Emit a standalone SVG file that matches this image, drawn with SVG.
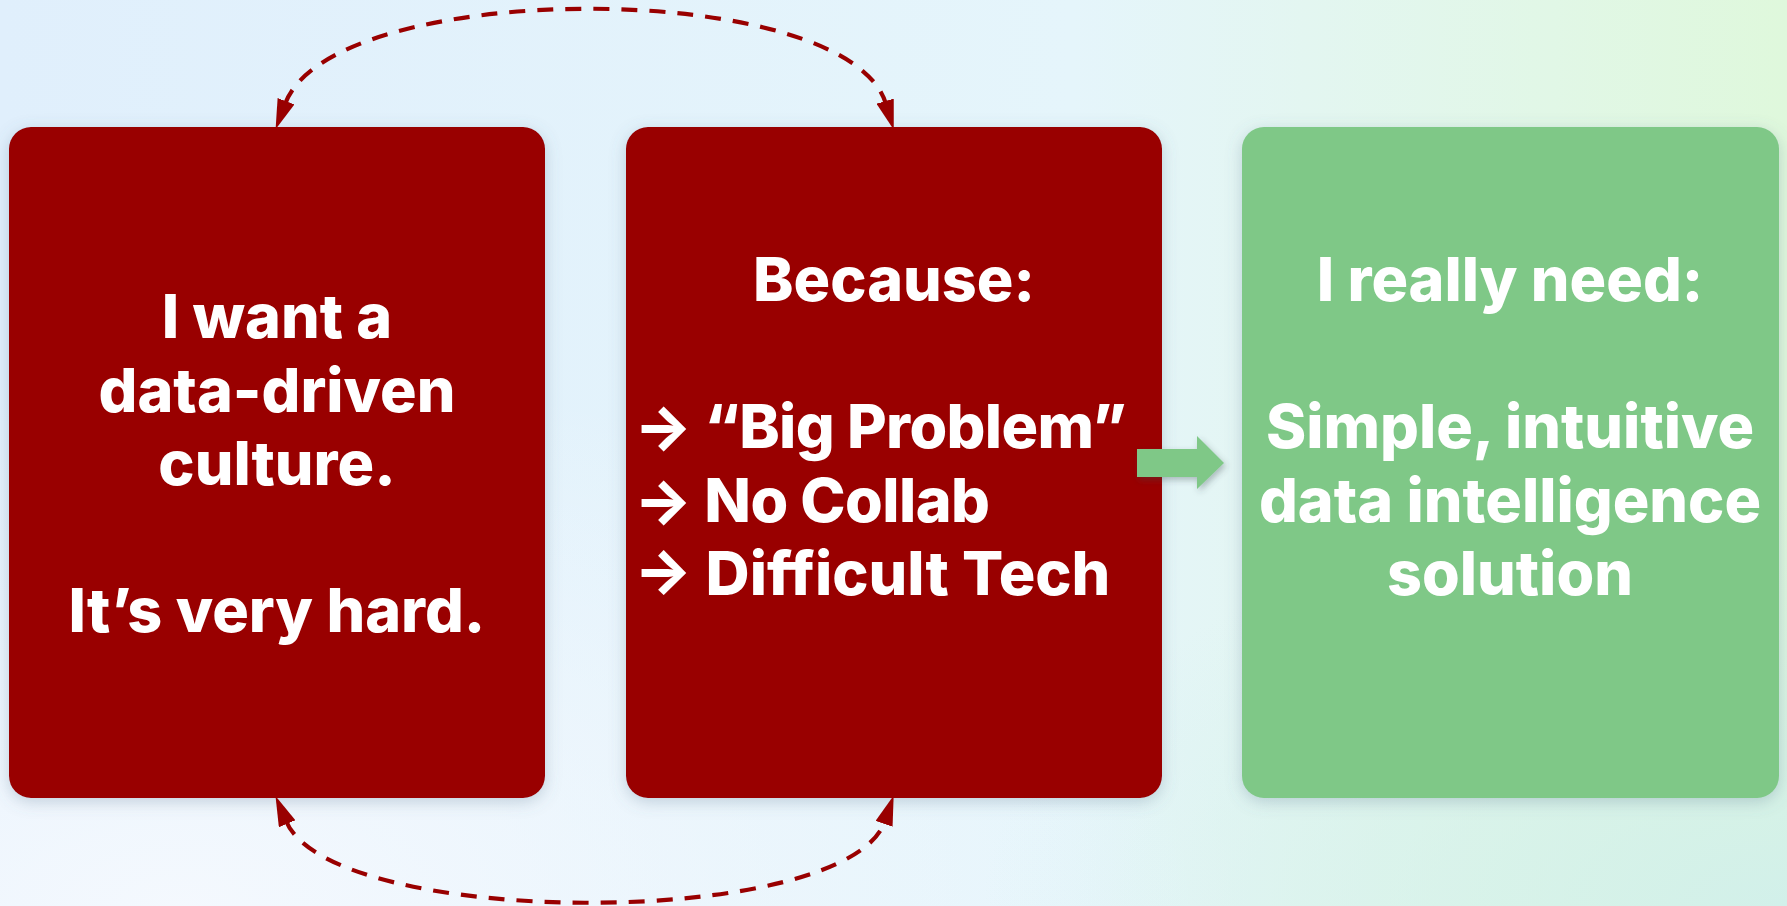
<svg xmlns="http://www.w3.org/2000/svg" width="1787" height="906" viewBox="0 0 1787 906">
<defs>
<linearGradient id="bg" x1="0" y1="0" x2="1" y2="0">
<stop offset="0" stop-color="#E0EFFC"/>
<stop offset="0.6" stop-color="#E5F5FB"/>
<stop offset="1" stop-color="#DFF8DC"/>
</linearGradient>
<radialGradient id="bl" cx="0.1" cy="1" r="0.6">
<stop offset="0" stop-color="#F5F9FE" stop-opacity="0.95"/>
<stop offset="1" stop-color="#F5F9FE" stop-opacity="0"/>
</radialGradient>
<radialGradient id="br" cx="1" cy="1" r="0.45">
<stop offset="0" stop-color="#D2F0EA" stop-opacity="1"/>
<stop offset="1" stop-color="#D2F0EA" stop-opacity="0"/>
</radialGradient>
<filter id="sh" x="-10%" y="-10%" width="120%" height="120%">
<feDropShadow dx="0" dy="4" stdDeviation="8" flood-color="#5a7890" flood-opacity="0.3"/>
</filter>
<filter id="ash" x="-30%" y="-30%" width="160%" height="160%">
<feDropShadow dx="2" dy="3" stdDeviation="3" flood-color="#3a4a50" flood-opacity="0.35"/>
</filter>
<marker id="ah" viewBox="0 0 30 18" refX="3" refY="9" markerWidth="30" markerHeight="18" markerUnits="userSpaceOnUse" orient="auto-start-reverse">
<path d="M0 0 L30 9 L0 18 Z" fill="#990000"/>
</marker>
</defs>
<style>
.red{fill:#990000}
.green{fill:#7FC887}
.t{font-family:Inter,"Liberation Sans",sans-serif;font-weight:800;font-size:61px;fill:#ffffff}
.c{text-anchor:middle}
.l{letter-spacing:-0.6px}
.dash{fill:none;stroke:#990000;stroke-width:4.2;stroke-dasharray:16 12}
</style>
<rect x="0" y="0" width="1787" height="906" fill="url(#bg)"/>
<rect x="0" y="0" width="1787" height="906" fill="url(#bl)"/>
<rect x="0" y="0" width="1787" height="906" fill="url(#br)"/>

<g id="node-want">
<rect x="9" y="127" width="536" height="671" rx="22" class="red" filter="url(#sh)"/>
<text class="t c" x="277" y="338">I want a</text>
<text class="t c" x="277" y="412">data-driven</text>
<text class="t c" x="277" y="485">culture.</text>
<text class="t c" x="277" y="632">It’s very hard.</text>
</g>

<g id="node-because">
<rect x="626" y="127" width="536" height="671" rx="22" class="red" filter="url(#sh)"/>
<text class="t c" x="894" y="301">Because:</text>
<text class="t l" x="634" y="448">→ “Big Problem”</text>
<text class="t l" x="634" y="522">→ No Collab</text>
<text class="t" x="634" y="595">→ Difficult Tech</text>
</g>

<g id="node-need">
<rect x="1242" y="127" width="537" height="671" rx="22" class="green" filter="url(#sh)"/>
<text class="t c" x="1510" y="301">I really need:</text>
<text class="t c" x="1510" y="448">Simple, intuitive</text>
<text class="t c" x="1510" y="522">data intelligence</text>
<text class="t c" x="1510" y="595">solution</text>
</g>

<g id="connectors">
<path class="dash" d="M285 104 C332 -23, 848 -23, 886 104" marker-start="url(#ah)" marker-end="url(#ah)"/>
<path class="dash" d="M286 821 C332 930, 848 930, 885 821" marker-start="url(#ah)" marker-end="url(#ah)"/>
<path d="M1137 449 L1197 449 L1197 436 L1224 463 L1197 489 L1197 477 L1137 477 Z" class="green" filter="url(#ash)"/>
</g>
</svg>
